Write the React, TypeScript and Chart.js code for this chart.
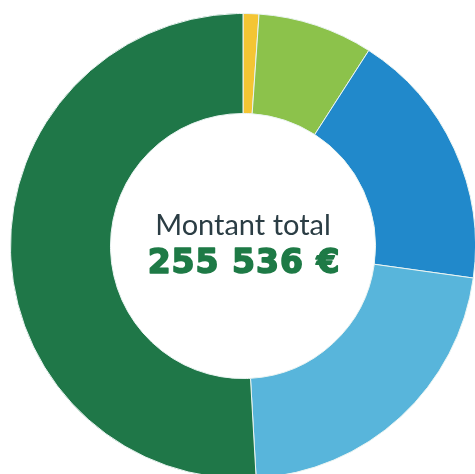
import React, { useEffect, useRef } from "react";
import { Chart, registerables } from "chart.js";

Chart.register(...registerables);

const labels = ["Segment 1", "Segment 2", "Segment 3", "Segment 4", "Segment 5"];
const values = [2811, 20443, 46252, 55962, 130068];
const colors = ["#F4C534", "#8CC24B", "#2189CB", "#58B5DB", "#1F7748"];
const titleText = "Montant total";
const totalText = "255 536 €";

const centerText = {
  id: "centerText",
  afterDraw(chart: any) {
    const meta = chart.getDatasetMeta(0);
    const arc = meta.data[0];
    if (!arc) return;
    const { x, y } = arc;
    const ctx = chart.ctx;
    ctx.save();
    ctx.textAlign = "center";
    ctx.textBaseline = "alphabetic";
    ctx.fillStyle = "#2B3D44";
    ctx.font = "400 29px Lato, 'Open Sans', sans-serif";
    ctx.fillText(titleText, x, y - 11);
    ctx.fillStyle = "#1E7A46";
    ctx.strokeStyle = "#1E7A46";
    ctx.lineWidth = 1.6;
    ctx.lineJoin = "round";
    ctx.font = "700 33px 'DejaVu Sans', sans-serif";
    (ctx as any).letterSpacing = "1px";
    ctx.fillText(totalText, x + 1, y + 27);
    ctx.strokeText(totalText, x + 1, y + 27);
    ctx.restore();
  },
};

export default function App() {
  const ref = useRef<HTMLCanvasElement | null>(null);
  useEffect(() => {
    if (!ref.current) return;
    const chart = new Chart(ref.current, {
      type: "doughnut",
      data: {
        labels,
        datasets: [
          {
            data: values,
            backgroundColor: colors,
            borderColor: "#EAF4F2",
            borderWidth: 1,
          },
        ],
      },
      options: {
        responsive: false,
        animation: false,
        cutout: "57%",
        plugins: {
          legend: { display: false },
          tooltip: { enabled: false },
        },
      },
      plugins: [centerText],
    });
    return () => chart.destroy();
  }, []);
  return (
    <div
      style={{
        position: "fixed",
        left: 0,
        top: 0,
        width: 475,
        height: 474,
        overflow: "hidden",
        background: "#ffffff",
      }}
    >
      <div style={{ position: "absolute", left: 10, top: 13, width: 466, height: 466 }}>
        <canvas ref={ref} width={466} height={466} style={{ width: 466, height: 466 }} />
      </div>
    </div>
  );
}
